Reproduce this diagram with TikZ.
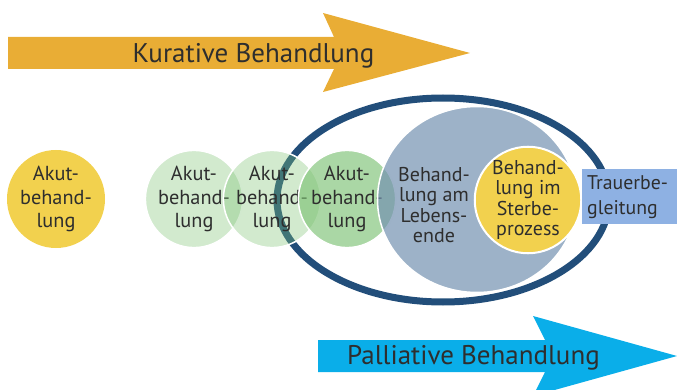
\documentclass[tikz,border=0pt]{standalone}
\usepackage{fontspec}
\setmainfont{PT Sans}
\usetikzlibrary{shapes.geometric}
\definecolor{kurc}{HTML}{E9AD35}
\definecolor{palc}{HTML}{0AAEE9}
\definecolor{yelc}{HTML}{F2D14E}
\definecolor{grnc}{HTML}{7DC274}
\definecolor{bluc}{HTML}{7391B0}
\definecolor{navc}{HTML}{224E7A}
\definecolor{trc}{HTML}{8EB1E3}
\definecolor{txc}{HTML}{2E2E2E}
\begin{document}
\begin{tikzpicture}[x=1pt,y=-1pt,
  lbl/.style={text=txc, align=center, inner sep=0pt},
  circtxt/.style={lbl, font=\fontsize{20.3}{23.5}\selectfont},
  bigtxt/.style={lbl, font=\fontsize{20}{20.3}\selectfont},
  arrtxt/.style={text=txc, inner sep=0pt, font=\fontsize{27}{30}\selectfont},
  disc/.style={circle, inner sep=0pt, minimum size=#1},
  greendisc/.style={disc=#1, fill=grnc, draw=white, line width=1.5pt, text opacity=1, draw opacity=1}
]
\useasboundingbox (0,0) rectangle (677,390);
\clip (0,0) rectangle (677,390);
% arrows
\fill[kurc] (8,37) -- (334,37) -- (323,13) -- (470,53) -- (323,92) -- (334,69) -- (8,69) -- cycle;
\node[arrtxt, anchor=base] (kt) at (253.5,63) {Kurative Behandlung};
\fill[palc] (318,340) -- (545,340) -- (533,316) -- (677,356) -- (533,396) -- (545,372) -- (318,372) -- cycle;
\node[arrtxt, anchor=base] (pt) at (473.5,364) {Palliative Behandlung};
% ellipse
\node[ellipse, draw=navc, line width=7pt, inner sep=0pt, minimum width=332pt, minimum height=204pt] (ell) at (443,200) {};
% left yellow
\node[disc=98pt, fill=yelc, circtxt] (a0) at (56,199) {Akut-\\behand-\\lung};
% green discs
\node[greendisc=94pt, fill opacity=0.35, circtxt] (a1) at (194,199) {Akut-\\behand-\\lung};
\node[greendisc=94pt, fill opacity=0.35, circtxt] (a2) at (272,199) {Akut-\\behand-\\lung};
\node[greendisc=94pt, fill opacity=0.65, circtxt] (a3) at (347,199) {Akut-\\behand-\\lung};
% big blue
\node[ellipse, fill=bluc, fill opacity=0.7, draw=white, draw opacity=1, line width=1.5pt, inner sep=0pt, minimum width=199pt, minimum height=186pt] (big) at (477,199.5) {};
\node[bigtxt] (bt) at (434,205) {Behand-\\lung am\\Lebens-\\ende};
% yellow inner
\node[disc=103pt, fill=yelc, draw=white, line width=2pt, bigtxt] (st) at (528,200) {Behand-\\lung im\\Sterbe-\\prozess};
% Trauer
\fill[trc] (582,169) rectangle (677,224);
\node[lbl, anchor=west, font=\fontsize{19.8}{25}\selectfont, align=left] (tr) at (587,197) {Trauerbe-\\gleitung};
\end{tikzpicture}
\end{document}
